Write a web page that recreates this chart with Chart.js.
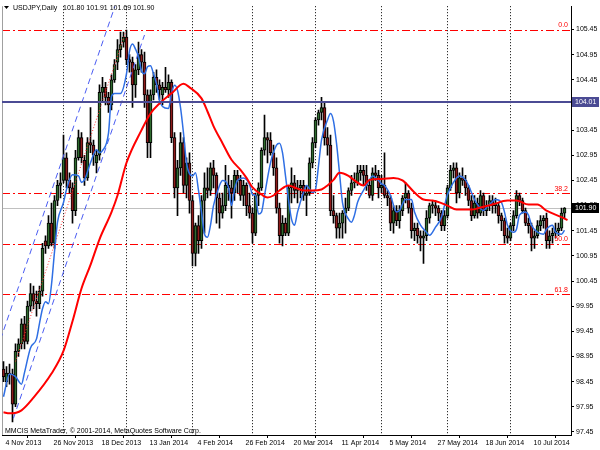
<!DOCTYPE html>
<html>
<head>
<meta charset="utf-8">
<script src="https://cdn.jsdelivr.net/npm/chart.js@4"></script>
<style>
  html, body { margin: 0; padding: 0; background: #fff; }
  canvas { display: block; }
</style>
</head>
<body>
<canvas id="chart" width="600" height="450"></canvas>
<script>
// USDJPY daily candles, 4 Nov 2013 .. 25 Jul 2014 (bar index 0..187)
const opens = [
  98.70, 98.45, 98.62, 98.60, 98.00, 99.05, 99.20, 99.60, 99.25, 99.95,
  100.20, 100.05, 100.00, 100.25, 101.25, 101.15, 101.60, 101.20, 102.05, 102.35,
  102.45, 102.90, 102.45, 102.30, 101.85, 102.90, 103.30, 102.85, 102.50, 103.20,
  103.15, 102.80, 102.95, 104.20, 104.30, 104.10, 103.95, 104.45, 104.80, 105.05,
  105.20, 105.30, 104.85, 104.80, 104.35, 104.65, 104.95, 104.80, 104.15, 103.20,
  104.15, 104.50, 104.35, 104.15, 104.30, 104.25, 104.40, 103.30, 102.30, 102.70,
  103.20, 102.35, 102.80, 102.05, 101.00, 101.55, 101.25, 102.05, 102.30, 102.25,
  102.70, 102.55, 102.10, 101.80, 101.95, 102.35, 102.30, 102.20, 102.55, 102.45,
  102.15, 102.35, 101.95, 101.80, 101.40, 102.15, 102.30, 103.05, 103.30, 103.25,
  103.00, 102.70, 101.90, 101.35, 101.60, 101.40, 102.30, 102.40, 102.25, 102.30,
  102.35, 102.15, 102.20, 102.80, 103.20, 103.65, 103.80, 103.90, 103.30, 103.15,
  101.85, 101.75, 101.50, 101.60, 101.80, 101.90, 102.25, 102.40, 102.40, 102.60,
  102.65, 102.55, 102.35, 102.15, 102.60, 102.55, 102.30, 102.35, 102.15, 102.10,
  101.60, 101.85, 101.65, 101.85, 102.10, 102.20, 101.90, 101.45, 101.50, 101.35,
  101.30, 101.35, 101.70, 101.95, 101.95, 101.90, 101.80, 101.55, 101.75, 102.30,
  102.65, 102.70, 102.20, 102.50, 102.45, 102.30, 102.05, 101.75, 102.00, 101.80,
  102.15, 101.85, 101.95, 102.05, 101.95, 101.95, 101.75, 101.65, 101.35, 101.30,
  101.55, 101.75, 102.15, 102.05, 101.85, 101.60, 101.55, 101.30, 101.35, 101.55,
  101.65, 101.70, 101.25, 101.35, 101.40, 101.45, 101.50, 101.80
];
const highs = [
  98.85, 98.75, 98.80, 98.70, 99.20, 99.30, 99.70, 99.75, 100.05, 100.40,
  100.35, 100.25, 100.35, 101.20, 101.35, 101.75, 102.00, 102.15, 102.45, 102.60,
  103.35, 103.00, 102.60, 102.40, 103.05, 103.45, 103.40, 102.95, 103.30, 103.90,
  103.25, 103.05, 104.35, 104.50, 104.40, 104.20, 104.55, 104.85, 105.25, 105.40,
  105.40, 105.44, 104.95, 104.90, 104.75, 105.20, 105.05, 105.00, 104.25, 104.25,
  104.60, 104.65, 104.45, 104.40, 104.70, 104.55, 104.45, 103.40, 102.85, 103.40,
  103.30, 102.90, 103.00, 102.15, 101.60, 101.75, 102.15, 102.60, 102.70, 102.80,
  102.85, 102.60, 102.20, 102.20, 102.75, 102.55, 102.45, 102.65, 102.65, 102.55,
  102.45, 102.40, 102.20, 101.90, 102.20, 102.40, 103.10, 103.75, 103.40, 103.40,
  103.15, 102.90, 102.00, 101.75, 101.70, 102.35, 102.70, 102.55, 102.45, 102.45,
  102.45, 102.35, 102.90, 103.30, 103.70, 103.85, 104.10, 104.00, 103.50, 103.35,
  102.15, 101.80, 101.80, 101.85, 102.10, 102.30, 102.55, 102.60, 102.75, 102.75,
  102.75, 102.75, 102.45, 102.70, 102.75, 102.65, 102.55, 103.00, 102.25, 102.15,
  101.95, 101.95, 101.95, 102.15, 102.40, 102.25, 102.00, 101.60, 101.60, 101.45,
  101.45, 101.85, 102.00, 102.05, 102.05, 101.95, 101.85, 101.85, 102.35, 102.75,
  102.80, 102.80, 102.60, 102.70, 102.55, 102.35, 102.15, 102.15, 102.10, 102.25,
  102.20, 102.05, 102.15, 102.15, 102.10, 102.00, 101.80, 101.70, 101.50, 101.60,
  101.85, 102.25, 102.20, 102.10, 101.90, 101.70, 101.60, 101.45, 101.65, 101.75,
  101.75, 101.80, 101.45, 101.50, 101.60, 101.60, 101.90, 101.91
];
const lows = [
  98.45, 98.35, 98.40, 97.65, 97.95, 98.95, 99.10, 99.10, 99.20, 99.85,
  99.90, 99.75, 99.90, 100.15, 101.00, 101.10, 101.15, 101.10, 101.95, 102.10,
  102.40, 102.30, 102.20, 101.60, 101.75, 102.85, 102.80, 102.35, 102.45, 103.00,
  102.75, 102.60, 102.85, 104.00, 103.95, 103.80, 103.85, 104.40, 104.65, 104.90,
  105.10, 104.75, 104.60, 103.90, 104.10, 104.55, 104.60, 103.90, 102.90, 102.90,
  104.05, 104.20, 104.05, 103.95, 104.20, 104.10, 103.20, 102.10, 101.75, 102.55,
  102.20, 102.10, 101.80, 100.75, 100.75, 101.00, 101.10, 101.40, 102.10, 102.15,
  102.30, 101.60, 101.50, 101.70, 101.85, 102.05, 101.70, 102.05, 102.20, 102.05,
  101.95, 101.75, 101.70, 101.20, 101.35, 101.95, 102.25, 102.95, 102.80, 102.95,
  102.55, 101.80, 101.20, 101.15, 101.35, 101.35, 102.00, 102.10, 102.00, 102.10,
  102.05, 101.75, 102.15, 102.70, 103.10, 103.55, 103.65, 103.15, 102.95, 101.75,
  101.60, 101.30, 101.30, 101.30, 101.40, 101.85, 102.15, 102.30, 102.35, 102.45,
  102.35, 102.25, 102.10, 102.05, 102.45, 102.10, 102.20, 102.10, 101.95, 101.45,
  101.40, 101.55, 101.50, 101.75, 102.00, 101.80, 101.30, 101.25, 101.20, 101.05,
  100.80, 101.25, 101.60, 101.80, 101.75, 101.65, 101.45, 101.45, 101.70, 102.25,
  102.50, 102.00, 102.10, 102.35, 102.15, 101.95, 101.65, 101.70, 101.70, 101.75,
  101.75, 101.75, 101.85, 101.80, 101.80, 101.60, 101.45, 101.20, 101.20, 101.25,
  101.45, 101.70, 101.95, 101.80, 101.55, 101.40, 101.05, 101.10, 101.30, 101.45,
  101.50, 101.10, 101.10, 101.20, 101.30, 101.35, 101.45, 101.69
];
const closes = [
  98.55, 98.62, 98.60, 98.00, 99.05, 99.20, 99.60, 99.25, 99.95, 100.20,
  100.05, 100.00, 100.25, 101.10, 101.15, 101.60, 101.20, 102.05, 102.35, 102.40,
  102.90, 102.45, 102.30, 101.85, 102.90, 103.30, 102.90, 102.50, 103.20, 103.15,
  102.95, 102.95, 104.20, 104.30, 104.10, 103.95, 104.45, 104.75, 105.05, 105.15,
  105.30, 104.85, 104.80, 104.35, 104.65, 104.95, 104.80, 104.15, 103.20, 104.15,
  104.50, 104.35, 104.25, 104.30, 104.25, 104.40, 103.30, 102.30, 102.70, 103.20,
  102.35, 102.80, 102.05, 101.00, 101.55, 101.25, 102.05, 102.30, 102.25, 102.70,
  102.55, 102.10, 101.80, 101.95, 102.35, 102.30, 102.20, 102.55, 102.45, 102.15,
  102.35, 101.95, 101.80, 101.40, 102.15, 102.30, 103.05, 103.30, 103.25, 103.00,
  102.70, 101.90, 101.35, 101.60, 101.40, 102.30, 102.40, 102.25, 102.30, 102.35,
  102.15, 102.20, 102.80, 103.20, 103.65, 103.80, 103.90, 103.30, 103.15, 101.85,
  101.75, 101.50, 101.60, 101.80, 101.90, 102.25, 102.40, 102.40, 102.60, 102.65,
  102.55, 102.35, 102.15, 102.60, 102.55, 102.30, 102.35, 102.15, 102.10, 101.60,
  101.85, 101.65, 101.85, 102.10, 102.20, 101.90, 101.45, 101.50, 101.35, 101.30,
  101.35, 101.70, 101.95, 101.95, 101.90, 101.80, 101.55, 101.75, 102.30, 102.65,
  102.70, 102.20, 102.50, 102.45, 102.30, 102.05, 101.75, 102.00, 101.80, 102.15,
  101.85, 101.95, 102.05, 101.95, 102.00, 101.75, 101.65, 101.35, 101.30, 101.55,
  101.75, 102.15, 102.05, 101.85, 101.60, 101.55, 101.30, 101.35, 101.55, 101.65,
  101.70, 101.25, 101.35, 101.40, 101.45, 101.50, 101.80, 101.90
];

// red moving average, read at selected bars
const maBars = [0, 2, 6, 10, 16, 20, 23, 26, 29, 32, 36, 38, 41, 46, 49, 52, 56, 60, 62, 66,
  68, 70, 73, 76, 79, 81, 83, 86, 88, 90, 92, 95, 97, 100, 103, 106, 108, 110, 112, 115,
  117, 120, 122, 126, 130, 133, 137, 140, 143, 148, 151, 156, 159, 163, 168, 171, 175, 178, 181, 186, 188];
const maValues = [97.84, 97.82, 97.88, 98.13, 98.61, 99.06, 99.65, 100.30, 100.77, 101.28,
  101.82, 102.15, 102.80, 103.45, 103.78, 103.98, 104.18, 104.37, 104.30, 104.08,
  103.82, 103.53, 103.19, 102.86, 102.66, 102.50, 102.31, 102.17, 102.11, 102.15,
  102.25, 102.35, 102.31, 102.25, 102.25, 102.27, 102.35, 102.46, 102.60, 102.54,
  102.45, 102.35, 102.46, 102.48, 102.50, 102.45, 102.21, 102.07, 102.05, 101.95,
  101.87, 101.87, 101.91, 101.97, 102.05, 102.05, 101.97, 101.97, 101.85, 101.72, 101.66];

// fast blue line, read at selected bars
const fastBars = [0, 2, 4, 6, 7, 9, 11, 12, 13, 14, 15, 16, 17, 18, 20, 21, 23, 25, 26, 27,
  29, 31, 32, 33, 35, 36, 37, 39, 41, 42, 43, 44, 45, 46, 47, 48, 49, 50, 51, 52,
  53, 55, 56, 57, 58, 59, 60, 61, 63, 64, 65, 66, 67, 68, 69, 70, 72, 73, 75, 76,
  77, 78, 80, 82, 83, 84, 85, 86, 87, 89, 91, 92, 93, 94, 95, 96, 97, 98, 100, 101,
  103, 104, 105, 106, 108, 109, 110, 111, 112, 113, 115, 116, 117, 118, 120, 122, 123, 125, 126, 127,
  129, 131, 132, 134, 136, 137, 139, 141, 142, 144, 146, 147, 148, 150, 151, 152, 154, 155, 157, 158,
  160, 161, 162, 164, 166, 167, 168, 170, 171, 172, 174, 175, 176, 178, 180, 181, 183, 184, 186, 187];
const fastValues = [98.15, 98.60, 98.55, 98.40, 98.63, 99.12, 99.30, 99.61, 99.90, 100.04,
  100.00, 100.38, 101.03, 101.62, 102.01, 102.27, 102.56, 102.54, 102.41, 102.46,
  102.80, 103.06, 103.00, 103.04, 103.39, 104.12, 104.18, 104.18, 104.57, 105.02,
  105.16, 105.06, 104.91, 104.63, 104.57, 104.71, 104.73, 104.57, 104.37, 104.04,
  103.92, 103.88, 104.18, 104.34, 104.24, 103.90, 103.39, 102.80, 102.54, 102.60,
  102.25, 101.82, 101.38, 101.32, 101.56, 101.95, 102.35, 102.45, 102.31, 101.95,
  102.27, 102.45, 102.50, 102.37, 102.17, 102.15, 101.78, 101.82, 102.15, 102.80,
  103.15, 103.19, 103.00, 102.54, 102.07, 101.68, 101.56, 101.82, 102.21, 102.35,
  102.21, 102.27, 102.74, 103.25, 103.65, 103.78, 103.63, 103.19, 102.60, 102.01,
  101.68, 101.62, 101.76, 102.01, 102.25, 102.46, 102.54, 102.45, 102.38, 102.35,
  102.15, 101.82, 101.85, 102.07, 102.07, 101.82, 101.56, 101.42, 101.36, 101.52,
  101.72, 101.95, 102.17, 102.41, 102.50, 102.54, 102.46, 102.35, 102.07, 101.97,
  101.85, 101.91, 101.97, 102.07, 102.01, 101.82, 101.56, 101.42, 101.48, 101.76,
  101.82, 101.76, 101.56, 101.42, 101.38, 101.48, 101.56, 101.42, 101.38, 101.46];

// hand-drawn objects: channel (blue dashed), mid trendline (red dotted)
const channelUpper = [[-1, 99.29], [38, 106.06]];
const channelLower = [[3.3, 97.72], [47, 105.34]];
const midTrend = [[4, 98.85], [40.7, 105.40]];

// fibonacci levels and horizontal line
const fibLevels = ['0.0', '38.2', '50.0', '61.8'];
const fibPrices = [105.44, 102.19, 101.19, 100.19];
const hLinePrice = 104.01;
const lastPrice = 101.90;
const header = ['101.80', '101.91', '101.69', '101.90'];

// axis labels
const labelBars = [0, 16, 32, 48, 64, 80, 96, 112, 128, 144, 160, 176];
const dateLabels = ['4 Nov 2013', '26 Nov 2013', '18 Dec 2013', '13 Jan 2014', '4 Feb 2014', '26 Feb 2014',
  '20 Mar 2014', '11 Apr 2014', '5 May 2014', '27 May 2014', '18 Jun 2014', '10 Jul 2014'];
const monthBars = [20, 41, 63, 83, 104, 126, 148, 169];
const priceTicks = [97.45, 97.95, 98.45, 98.95, 99.45, 99.95, 100.45, 100.95, 101.45,
  101.95, 102.45, 102.95, 103.45, 103.95, 104.45, 104.95, 105.45];

const FONT = '"Liberation Sans", Arial, sans-serif';
const BULL = '#2f6b2f';
const BEAR = '#8e1b1b';

const toPts = arr => arr.map(p => ({ x: p[0], y: p[1] }));

const overlay = {
  id: 'overlay',
  beforeDatasetsDraw(chart) {
    const { ctx, chartArea: a, scales: { x, y } } = chart;
    ctx.save();
    // month grid lines
    ctx.strokeStyle = '#000';
    ctx.lineWidth = 1;
    ctx.setLineDash([1, 2]);
    monthBars.forEach(b => {
      const px = Math.round(x.getPixelForValue(b)) + 0.5;
      ctx.beginPath();
      ctx.moveTo(px, a.top);
      ctx.lineTo(px, a.bottom);
      ctx.stroke();
    });
    // bid line
    ctx.setLineDash([]);
    ctx.strokeStyle = '#c0c0c0';
    let py = Math.round(y.getPixelForValue(lastPrice)) + 0.5;
    ctx.beginPath(); ctx.moveTo(a.left, py); ctx.lineTo(a.right, py); ctx.stroke();
    // fibo lines
    ctx.strokeStyle = '#ff0000';
    ctx.setLineDash([8, 3, 2, 3]);
    fibPrices.forEach(p => {
      const fy = Math.round(y.getPixelForValue(p)) + 0.5;
      ctx.beginPath(); ctx.moveTo(a.left, fy); ctx.lineTo(a.right, fy); ctx.stroke();
    });
    // left frame
    ctx.setLineDash([]);
    ctx.strokeStyle = '#a0a0a0';
    ctx.beginPath(); ctx.moveTo(a.left + 0.5, a.top); ctx.lineTo(a.left + 0.5, a.bottom); ctx.stroke();
    ctx.restore();
  },
  afterDatasetsDraw(chart) {
    const { ctx, chartArea: a, scales: { y } } = chart;
    ctx.save();
    // user horizontal line
    ctx.strokeStyle = '#4b4b94';
    ctx.lineWidth = 2;
    const hy = Math.round(y.getPixelForValue(hLinePrice));
    ctx.beginPath(); ctx.moveTo(a.left, hy); ctx.lineTo(a.right, hy); ctx.stroke();
    // fibo labels
    ctx.font = '7px ' + FONT;
    ctx.fillStyle = '#ff0000';
    ctx.textAlign = 'right';
    ctx.textBaseline = 'bottom';
    fibPrices.forEach((p, k) => {
      ctx.fillText(fibLevels[k], a.right - 3, y.getPixelForValue(p) - 1);
    });
    // copyright
    ctx.fillStyle = '#000';
    ctx.textAlign = 'left';
    ctx.textBaseline = 'middle';
    ctx.fillText('MMCIS MetaTrader, \u00a9 2001-2014, MetaQuotes Software Corp.', a.left + 3, a.bottom - 4);
    // header
    ctx.beginPath();
    ctx.moveTo(a.left + 2, 6); ctx.lineTo(a.left + 7, 6); ctx.lineTo(a.left + 4.5, 9); ctx.closePath();
    ctx.fill();
    ctx.fillText('USDJPY,Daily', a.left + 11, 8);
    ctx.fillText(header.join(' '), a.left + 61, 8);
    ctx.restore();
  },
  afterDraw(chart) {
    const { ctx, chartArea: a, scales: { y } } = chart;
    ctx.save();
    ctx.font = '7px ' + FONT;
    ctx.textBaseline = 'middle';
    ctx.textAlign = 'left';
    const tag = (price, bg) => {
      const ty = Math.round(y.getPixelForValue(price));
      ctx.fillStyle = bg;
      ctx.fillRect(a.right + 1, ty - 5, 27, 10);
      ctx.fillStyle = '#fff';
      ctx.fillText(price.toFixed(2), a.right + 4, ty);
    };
    tag(hLinePrice, '#4b4b94');
    tag(lastPrice, '#000');
    ctx.restore();
  }
};

new Chart(document.getElementById('chart').getContext('2d'), {
  type: 'bar',
  data: {
    datasets: [
      {
        type: 'line',
        data: maBars.map((b, k) => ({ x: b, y: maValues[k] })),
        borderColor: '#ff0000',
        borderWidth: 2,
        pointRadius: 0,
        cubicInterpolationMode: 'monotone',
        order: 1
      },
      {
        type: 'line',
        data: fastBars.map((b, k) => ({ x: b, y: fastValues[k] })),
        borderColor: '#2f6fe4',
        borderWidth: 1.5,
        pointRadius: 0,
        cubicInterpolationMode: 'monotone',
        order: 1
      },
      {
        type: 'line',
        data: toPts(channelUpper),
        borderColor: '#4a5cf2',
        borderWidth: 1,
        borderDash: [6, 4],
        pointRadius: 0,
        order: 1
      },
      {
        type: 'line',
        data: toPts(channelLower),
        borderColor: '#4a5cf2',
        borderWidth: 1,
        borderDash: [6, 4],
        pointRadius: 0,
        order: 1
      },
      {
        type: 'line',
        data: toPts(midTrend),
        borderColor: '#ff3030',
        borderWidth: 1,
        borderDash: [1, 2],
        pointRadius: 0,
        order: 1
      },
      {
        // wicks
        data: highs.map((h, i) => ({ x: i, y: [lows[i], h] })),
        backgroundColor: '#000',
        barThickness: 1,
        grouped: false,
        order: 4
      },
      {
        // bodies
        data: opens.map((o, i) => ({ x: i, y: [o, closes[i]] })),
        backgroundColor: c => closes[c.dataIndex] >= opens[c.dataIndex] ? BULL : BEAR,
        borderColor: '#000',
        borderWidth: 1,
        borderSkipped: false,
        barThickness: 3,
        minBarLength: 1,
        grouped: false,
        order: 3
      }
    ]
  },
  options: {
    responsive: false,
    animation: false,
    events: [],
    layout: { padding: { left: 2, top: 2, right: 0, bottom: 0 } },
    plugins: { legend: { display: false }, tooltip: { enabled: false } },
    scales: {
      x: {
        type: 'linear',
        min: -0.5,
        max: 189.1667,
        offset: false,
        afterBuildTicks: s => { s.ticks = labelBars.map(v => ({ value: v })); },
        afterFit: s => { s.height = 15; },
        ticks: {
          autoSkip: false,
          maxRotation: 0,
          align: 'start',
          labelOffset: 2,
          padding: 1,
          color: '#000',
          font: { family: FONT, size: 7 },
          callback: v => dateLabels[labelBars.indexOf(v)]
        },
        grid: { drawOnChartArea: false, drawTicks: true, tickLength: 3, color: '#000' },
        border: { display: true, color: '#000' }
      },
      y: {
        position: 'right',
        min: 97.389,
        max: 105.913,
        afterBuildTicks: s => { s.ticks = priceTicks.map(v => ({ value: v })); },
        afterFit: s => { s.width = 29; },
        ticks: {
          autoSkip: false,
          padding: 2,
          color: '#000',
          font: { family: FONT, size: 7 },
          callback: v => v.toFixed(2)
        },
        grid: { drawOnChartArea: false, drawTicks: true, tickLength: 3, color: '#000' },
        border: { display: true, color: '#000' }
      }
    }
  },
  plugins: [overlay]
});
</script>
</body>
</html>
